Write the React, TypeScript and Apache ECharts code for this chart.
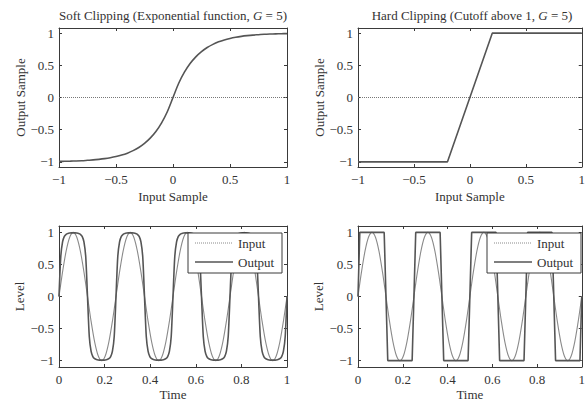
import React, { useEffect, useRef } from 'react';
import * as echarts from 'echarts';

const FONT = '"Liberation Serif", "DejaVu Serif", serif';

const titles = [
  'Soft Clipping (Exponential function, {i|G} = 5)',
  'Hard Clipping (Cutoff above 1, {i|G} = 5)',
];
const xNamesTop = ['Input Sample', 'Input Sample'];
const yNamesTop = ['Output Sample', 'Output Sample'];
const xNameBottom = 'Time';
const yNameBottom = 'Level';
const legendNames = ['Input', 'Output'];

const yTicks = [-1, -0.5, 0, 0.5, 1];
const xTicksTop = [-1, -0.5, 0, 0.5, 1];
const xTicksBottom = [0, 0.2, 0.4, 0.6, 0.8, 1];

// Soft clipping transfer curve
const softX = [
  -1, -0.95, -0.9, -0.85, -0.8, -0.75, -0.7, -0.65, -0.6, -0.55, -0.5, -0.45, -0.4, -0.35, -0.3, -0.25, -0.2,
  -0.15, -0.1, -0.05, 0, 0.05, 0.1, 0.15, 0.2, 0.25, 0.3, 0.35, 0.4, 0.45, 0.5, 0.55, 0.6, 0.65, 0.7, 0.75,
  0.8, 0.85, 0.9, 0.95, 1,
];
const softY = [
  -0.993, -0.991, -0.989, -0.986, -0.982, -0.976, -0.97, -0.961, -0.95, -0.936, -0.918, -0.895, -0.865,
  -0.826, -0.777, -0.713, -0.632, -0.528, -0.393, -0.221, 0, 0.221, 0.393, 0.528, 0.632, 0.713, 0.777, 0.826,
  0.865, 0.895, 0.918, 0.936, 0.95, 0.961, 0.97, 0.976, 0.982, 0.986, 0.989, 0.991, 0.993,
];

// Hard clipping transfer curve
const hardX = [-1, -0.2, 0.2, 1];
const hardY = [-1, -1, 1, 1];

// Input sine, sampled every 1/64 s
const inputLevel = [
  0, 0.383, 0.707, 0.924, 1, 0.924, 0.707, 0.383, 0, -0.383, -0.707, -0.924, -1, -0.924, -0.707, -0.383,
  0, 0.383, 0.707, 0.924, 1, 0.924, 0.707, 0.383, 0, -0.383, -0.707, -0.924, -1, -0.924, -0.707, -0.383,
  0, 0.383, 0.707, 0.924, 1, 0.924, 0.707, 0.383, 0, -0.383, -0.707, -0.924, -1, -0.924, -0.707, -0.383,
  0, 0.383, 0.707, 0.924, 1, 0.924, 0.707, 0.383, 0, -0.383, -0.707, -0.924, -1, -0.924, -0.707, -0.383,
  0,
];

// Soft-clipped output, sampled every 1/128 s
const softOut = [
  0, 0.623, 0.853, 0.938, 0.971, 0.984, 0.99, 0.993, 0.993, 0.993, 0.99, 0.984, 0.971, 0.938, 0.853, 0.623,
  0, -0.623, -0.853, -0.938, -0.971, -0.984, -0.99, -0.993, -0.993, -0.993, -0.99, -0.984, -0.971, -0.938, -0.853, -0.623,
  0, 0.623, 0.853, 0.938, 0.971, 0.984, 0.99, 0.993, 0.993, 0.993, 0.99, 0.984, 0.971, 0.938, 0.853, 0.623,
  0, -0.623, -0.853, -0.938, -0.971, -0.984, -0.99, -0.993, -0.993, -0.993, -0.99, -0.984, -0.971, -0.938, -0.853, -0.623,
  0, 0.623, 0.853, 0.938, 0.971, 0.984, 0.99, 0.993, 0.993, 0.993, 0.99, 0.984, 0.971, 0.938, 0.853, 0.623,
  0, -0.623, -0.853, -0.938, -0.971, -0.984, -0.99, -0.993, -0.993, -0.993, -0.99, -0.984, -0.971, -0.938, -0.853, -0.623,
  0, 0.623, 0.853, 0.938, 0.971, 0.984, 0.99, 0.993, 0.993, 0.993, 0.99, 0.984, 0.971, 0.938, 0.853, 0.623,
  0, -0.623, -0.853, -0.938, -0.971, -0.984, -0.99, -0.993, -0.993, -0.993, -0.99, -0.984, -0.971, -0.938, -0.853, -0.623,
  0,
];

// Hard-clipped output (breakpoints)
const hardT = [
  0, 0.008, 0.117, 0.133, 0.242, 0.258, 0.367, 0.383, 0.492, 0.508, 0.617, 0.633, 0.742, 0.758, 0.867, 0.883,
  0.992, 1,
];
const hardOut = [0, 1, 1, -1, -1, 1, 1, -1, -1, 1, 1, -1, -1, 1, 1, -1, -1, 0];

const AXIS_COLOR = '#3a3a3a';
const TEXT_COLOR = '#333';
const LINE_COLOR = '#555';
const INPUT_COLOR = '#8a8a8a';

const fmt = (v: number) => String(Math.round(v * 100) / 100).replace('-', '\u2212');

export default function App() {
  const ref = useRef<HTMLDivElement>(null);

  useEffect(() => {
    document.body.style.margin = '0';
    if (!ref.current) return;
    const chart = echarts.init(ref.current, undefined, { renderer: 'svg' });

    const grids = [
      { left: 59, top: 28, width: 228, height: 139 },
      { left: 358, top: 28, width: 228, height: 139 },
      { left: 59, top: 226, width: 228, height: 141 },
      { left: 358, top: 226, width: 228, height: 141 },
    ];

    const textStyle = { fontFamily: FONT, fontSize: 13, color: TEXT_COLOR };

    const xAxis: any[] = [];
    const yAxis: any[] = [];
    grids.forEach((g, i) => {
      const top = i < 2;
      const xt = top ? xTicksTop : xTicksBottom;
      const xmin = top ? -1 : 0;
      const ymax = top ? 1.08 : 1.1;
      const common = {
        gridIndex: i,
        type: 'value',
        splitLine: { show: false },
        axisLine: { show: true, onZero: false, lineStyle: { color: AXIS_COLOR, width: 1 } },
      };
      xAxis.push({
        ...common,
        position: 'bottom',
        min: xmin,
        max: 1,
        name: top ? xNamesTop[i] : xNameBottom,
        nameLocation: 'middle',
        nameGap: top ? 23 : 21,
        nameTextStyle: textStyle,
        axisTick: { show: true, inside: true, length: 3, customValues: xt, lineStyle: { color: AXIS_COLOR } },
        axisLabel: { customValues: xt, formatter: fmt, margin: 6, ...textStyle },
      });
      xAxis.push({
        ...common,
        position: 'top',
        min: xmin,
        max: 1,
        axisTick: { show: true, inside: true, length: 3, customValues: xt, lineStyle: { color: AXIS_COLOR } },
        axisLabel: { show: false },
      });
      yAxis.push({
        ...common,
        position: 'left',
        min: -ymax,
        max: ymax,
        name: top ? yNamesTop[i] : yNameBottom,
        nameLocation: 'middle',
        nameGap: top ? 32 : 33,
        nameTextStyle: textStyle,
        axisTick: { show: true, inside: true, length: 3, customValues: yTicks, lineStyle: { color: AXIS_COLOR } },
        axisLabel: { customValues: yTicks, formatter: fmt, margin: 5, ...textStyle },
      });
      yAxis.push({
        ...common,
        position: 'right',
        min: -ymax,
        max: ymax,
        axisTick: { show: true, inside: true, length: 3, customValues: yTicks, lineStyle: { color: AXIS_COLOR } },
        axisLabel: { show: false },
      });
    });

    const inputT = inputLevel.map((_, k) => k / 64);
    const softT = softOut.map((_, k) => k / 128);

    const lineBase = { type: 'line', showSymbol: false, symbol: 'none', silent: true, z: 2 };
    const inputStyle = { color: INPUT_COLOR, width: 1.1 };
    const outStyle = { color: LINE_COLOR, width: 1.6 };

    const series: any[] = [
      {
        ...lineBase,
        xAxisIndex: 0,
        yAxisIndex: 0,
        data: [[-1, 0], [1, 0]],
        lineStyle: { color: '#777', width: 1, type: 'dotted' },
      },
      {
        ...lineBase,
        xAxisIndex: 0,
        yAxisIndex: 0,
        smooth: 0.3,
        data: softX.map((x, k) => [x, softY[k]]),
        lineStyle: outStyle,
      },
      {
        ...lineBase,
        xAxisIndex: 2,
        yAxisIndex: 2,
        data: [[-1, 0], [1, 0]],
        lineStyle: { color: '#777', width: 1, type: 'dotted' },
      },
      {
        ...lineBase,
        xAxisIndex: 2,
        yAxisIndex: 2,
        data: hardX.map((x, k) => [x, hardY[k]]),
        lineStyle: outStyle,
      },
      {
        ...lineBase,
        xAxisIndex: 4,
        yAxisIndex: 4,
        smooth: 0.3,
        data: inputT.map((t, k) => [t, inputLevel[k]]),
        lineStyle: inputStyle,
      },
      {
        ...lineBase,
        xAxisIndex: 4,
        yAxisIndex: 4,
        smooth: 0.25,
        data: softT.map((t, k) => [t, softOut[k]]),
        lineStyle: outStyle,
      },
      {
        ...lineBase,
        xAxisIndex: 6,
        yAxisIndex: 6,
        smooth: 0.3,
        data: inputT.map((t, k) => [t, inputLevel[k]]),
        lineStyle: inputStyle,
      },
      {
        ...lineBase,
        xAxisIndex: 6,
        yAxisIndex: 6,
        data: hardT.map((t, k) => [t, hardOut[k]]),
        lineStyle: outStyle,
      },
    ];

    const Z = 100;
    const legendGraphic = (x: number, y: number) => ({
      type: 'group',
      x,
      y,
      z: Z,
      children: [
        { type: 'rect', z: Z, shape: { x: 0, y: 0, width: 94, height: 40 }, style: { fill: '#fff', stroke: AXIS_COLOR, lineWidth: 1 } },
        { type: 'line', z: Z + 1, shape: { x1: 7, y1: 10, x2: 45, y2: 10 }, style: { stroke: INPUT_COLOR, lineWidth: 1, lineDash: [1, 1] } },
        { type: 'line', z: Z + 1, shape: { x1: 7, y1: 29, x2: 45, y2: 29 }, style: { stroke: LINE_COLOR, lineWidth: 1.6 } },
        { type: 'text', z: Z + 1, x: 50, y: 10, style: { text: legendNames[0], font: `13px ${FONT}`, fill: TEXT_COLOR, verticalAlign: 'middle' } },
        { type: 'text', z: Z + 1, x: 50, y: 29, style: { text: legendNames[1], font: `13px ${FONT}`, fill: TEXT_COLOR, verticalAlign: 'middle' } },
      ],
    });

    const titleGraphic = (text: string, cx: number) => ({
      type: 'text',
      x: cx,
      y: 15,
      z: Z,
      style: {
        text,
        font: `13px ${FONT}`,
        fill: TEXT_COLOR,
        align: 'center',
        verticalAlign: 'middle',
        rich: { i: { fontStyle: 'italic', fontFamily: FONT, fontSize: 13, fill: TEXT_COLOR } },
      },
    });

    chart.setOption({
      animation: false,
      backgroundColor: '#fff',
      grid: grids.map((g) => ({ ...g, containLabel: false })),
      xAxis,
      yAxis,
      series,
      graphic: {
        elements: [
          titleGraphic(titles[0], 173),
          titleGraphic(titles[1], 472),
          legendGraphic(188, 233),
          legendGraphic(487, 233),
        ],
      },
    });

    return () => chart.dispose();
  }, []);

  return <div ref={ref} style={{ width: 588, height: 403 }} />;
}
